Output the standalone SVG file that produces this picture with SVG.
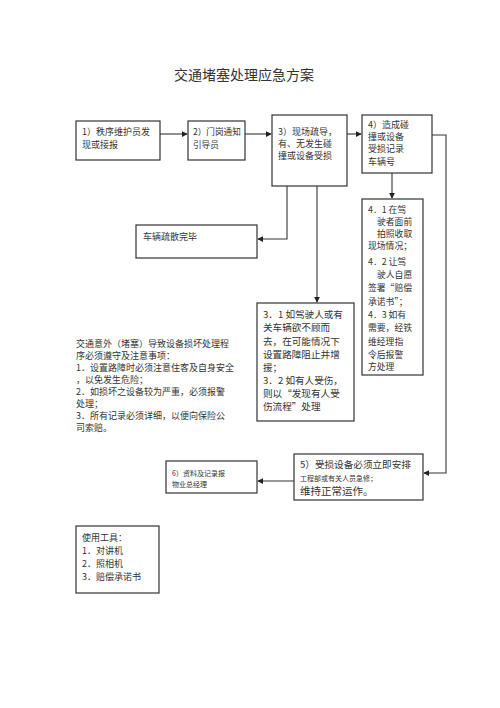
<svg xmlns="http://www.w3.org/2000/svg" width="500" height="708" viewBox="0 0 500 708">
<style>
.box{fill:#fff;stroke:#333;stroke-width:1.2}
.ln{fill:none;stroke:#333;stroke-width:1.1}
text{font-family:"Noto Sans CJK SC","Liberation Sans",sans-serif;fill:#333;font-size:9px}
.t{font-size:14px;text-anchor:middle;font-family:"Liberation Serif","Noto Sans CJK SC",serif}
.s9{font-size:8.8px}
.s10{font-size:9.6px}
.s7{font-size:7px}
.s105{font-size:10.5px}
.sn{font-size:9px}
.s86{font-size:8.6px}
</style>
<defs>
<marker id="ah" viewBox="0 0 8 8" refX="7" refY="4" markerWidth="6" markerHeight="6" markerUnits="userSpaceOnUse" orient="auto">
<path d="M0,0 L8,4 L0,8 z" fill="#222"/>
</marker>
</defs>
<rect width="500" height="708" fill="#fff"/>
<text class="t" x="244" y="80">交通堵塞处理应急方案</text>

<g id="connectors">
<line class="ln" x1="160" y1="134" x2="187" y2="134" marker-end="url(#ah)"/>
<line class="ln" x1="245" y1="134" x2="271" y2="134" marker-end="url(#ah)"/>
<line class="ln" x1="347" y1="134" x2="361" y2="134" marker-end="url(#ah)"/>
<polyline class="ln" points="432,135 446,135 446,473 424,473" marker-end="url(#ah)"/>
<line class="ln" x1="392" y1="173" x2="392" y2="198" marker-end="url(#ah)"/>
<polyline class="ln" points="287,186 287,239 258,239" marker-end="url(#ah)"/>
<line class="ln" x1="317" y1="186" x2="317" y2="302" marker-end="url(#ah)"/>
<line class="ln" x1="294" y1="481" x2="258" y2="481" marker-end="url(#ah)"/>
</g>

<g id="n1">
<rect class="box" x="76" y="121" width="84" height="39"/>
<text x="82" y="135">1）秩序维护员发</text>
<text x="82" y="148">现或接报</text>
</g>
<g id="n2">
<rect class="box" x="188" y="121" width="57" height="39"/>
<text class="s86" x="193" y="135">2）门岗通知</text>
<text class="s86" x="193" y="148">引导员</text>
</g>
<g id="n3">
<rect class="box" x="272" y="115" width="75" height="71"/>
<text x="278" y="135">3）现场疏导，</text>
<text x="278" y="147">有、无发生碰</text>
<text x="278" y="159">撞或设备受损</text>
</g>
<g id="n4">
<rect class="box" x="362" y="115" width="70" height="58"/>
<text x="368" y="128">4）造成碰</text>
<text x="368" y="140">撞或设备</text>
<text x="368" y="152">受损记录</text>
<text x="368" y="165">车辆号</text>
</g>
<g id="n_done">
<rect class="box" x="136" y="225" width="121" height="33"/>
<text x="143" y="240">车辆疏散完毕</text>
</g>
<g id="n41">
<rect class="box" x="362" y="199" width="61" height="176"/>
<text class="s9" x="368" y="213">4．1 在驾</text>
<text class="s9" x="377" y="225">驶者面前</text>
<text class="s9" x="377" y="237">拍照收取</text>
<text class="s9" x="368" y="249">现场情况；</text>
<text class="s9" x="368" y="265">4．2 让驾</text>
<text class="s9" x="377" y="278">驶人自愿</text>
<text class="s9" x="368" y="291">签署“赔偿</text>
<text class="s9" x="368" y="305">承诺书”；</text>
<text class="s9" x="368" y="318">4．3 如有</text>
<text class="s9" x="368" y="331">需要，经铁</text>
<text class="s9" x="368" y="345">维经理指</text>
<text class="s9" x="368" y="358">令后报警</text>
<text class="s9" x="368" y="370">方处理</text>
</g>
<g id="n31">
<rect class="box" x="257" y="303" width="97" height="118"/>
<text class="s10" x="263" y="318">3．1 如驾驶人或有</text>
<text class="s10" x="263" y="331">关车辆欲不顾而</text>
<text class="s10" x="263" y="345">去，在可能情况下</text>
<text class="s10" x="263" y="358">设置路障阻止并增</text>
<text class="s10" x="263" y="371">援；</text>
<text class="s10" x="263" y="384">3．2 如有人受伤，</text>
<text class="s10" x="263" y="397">则以“发现有人受</text>
<text class="s10" x="263" y="410">伤流程”处理</text>
</g>
<g id="notes">
<text class="sn" x="76" y="347">交通意外（堵塞）导致设备损坏处理程</text>
<text class="sn" x="76" y="359">序必须遵守及注意事项：</text>
<text class="sn" x="76" y="371">1．设置路障时必须注意住客及自身安全</text>
<text class="sn" x="76" y="383">，以免发生危险；</text>
<text class="sn" x="76" y="395">2．如损坏之设备较为严重，必须报警</text>
<text class="sn" x="76" y="407">处理；</text>
<text class="sn" x="76" y="419">3．所有记录必须详细，以便向保险公</text>
<text class="sn" x="76" y="431">司索赔。</text>
</g>
<g id="n5">
<rect class="box" x="294" y="454" width="129" height="46"/>
<text class="s10" x="300" y="468">5）受损设备必须立即安排</text>
<text class="s7" x="300" y="481">工程部或有关人员急修；</text>
<text class="s105" x="300" y="495">维持正常运作。</text>
</g>
<g id="n6">
<rect class="box" x="166" y="461" width="91" height="32"/>
<text class="s7" x="172" y="476">6）资料及记录报</text>
<text class="s7" x="172" y="487">物业总经理</text>
</g>
<g id="tools">
<rect class="box" x="76" y="526" width="83" height="67"/>
<text x="82" y="541">使用工具：</text>
<text x="82" y="554">1．对讲机</text>
<text x="82" y="567">2．照相机</text>
<text x="82" y="580">3．赔偿承诺书</text>
</g>
</svg>
